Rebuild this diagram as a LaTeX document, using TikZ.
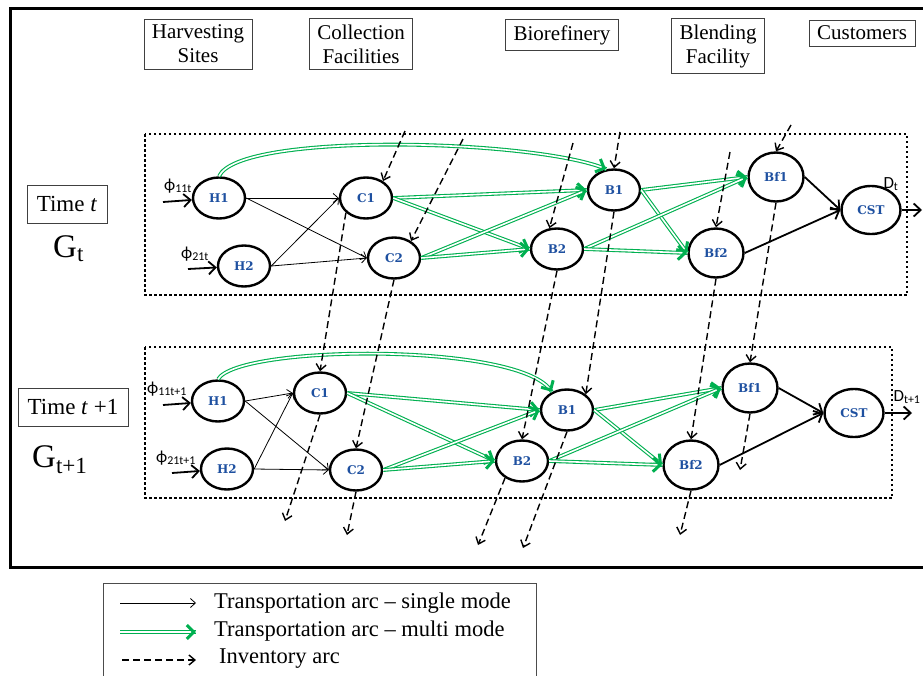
\documentclass[tikz,border=0pt]{standalone}
\usepackage{fontspec}
\setmainfont{Liberation Serif}
\newfontfamily\lblfont{DejaVu Serif}
\newfontfamily\calfont{Carlito}
\usetikzlibrary{shapes.geometric,arrows.meta,decorations.markings}
\definecolor{mgreen}{RGB}{0,176,80}
\definecolor{lblue}{RGB}{30,80,160}

\begin{document}
\begin{tikzpicture}[x=1pt,y=-1pt,
  site/.style={draw, ellipse, line width=2.4pt, minimum width=52pt, minimum height=41pt, inner sep=0pt,
    text=lblue, font=\lblfont\bfseries\fontsize{12}{14}\selectfont},
  blend/.style={site, minimum width=55pt, minimum height=49pt},
  cust/.style={site, minimum width=59pt, minimum height=48pt},
  hdr/.style={draw=black!75, line width=0.8pt, align=center, inner xsep=8pt, inner ysep=6pt,
    font=\fontsize{21}{24}\selectfont},
  sub/.style={inner sep=0pt, font=\calfont\fontsize{17}{19}\selectfont},
  single/.style={line width=0.8pt, -{Straight Barb[length=5pt,width=9pt]}},
  heavy/.style={line width=1.8pt, -{Straight Barb[length=7pt,width=13pt]}},
  multi/.style={draw=mgreen, double=white, double distance=1.6pt, line width=1.1pt,
    postaction={decorate, decoration={markings, mark=at position 0.999 with
      {\arrow[mgreen]{Straight Barb[length=7pt,width=14pt,line width=3pt]}}}}},
  inv/.style={line width=1.4pt, dash pattern=on 7pt off 4pt, -{Straight Barb[length=6pt,width=10pt]}},
  layer/.style={line width=2.5pt, dash pattern=on 2.5pt off 2.5pt}]
\useasboundingbox (0,0) rectangle (923,675);

\draw[line width=3pt] (924,8) -- (10,8) -- (10,567) -- (924,567);
\draw[layer] (145,134) rectangle (907,295);
\draw[layer] (145,347) rectangle (892,498);

\node[hdr] (hs) at (198,44) {Harvesting\\Sites};
\node[hdr] (cf) at (361,44) {Collection\\Facilities};
\node[hdr] (br) at (562,35) {Biorefinery};
\node[hdr] (bf) at (718,46) {Blending\\Facility};
\node[hdr] (cu) at (862,33) {Customers};

\node[draw=black!75, line width=0.8pt, minimum width=80pt, minimum height=38pt, inner sep=0pt,
  font=\fontsize{23}{26}\selectfont] (tt) at (67,204) {Time \textit{t}};
\node[anchor=base west, inner sep=0pt, font=\fontsize{33}{36}\selectfont] (gt) at (53,257) {G\textsubscript{t}};
\node[draw=black!75, line width=0.8pt, minimum width=110pt, minimum height=38pt, inner sep=0pt,
  font=\fontsize{23}{26}\selectfont] (ttp) at (73,407) {Time \textit{t} +1};
\node[anchor=base west, inner sep=0pt, font=\fontsize{33}{36}\selectfont] (gtp) at (32,467) {G\textsubscript{t+1}};

\node[site] (h1) at (219,198) {H1};
\node[site] (h2) at (244,266) {H2};
\node[site] (c1) at (366,198) {C1};
\node[site] (c2) at (394,258) {C2};
\node[site] (b1) at (614,190) {B1};
\node[site] (b2) at (557,249) {B2};
\node[blend] (f1) at (776,177) {Bf1};
\node[blend] (f2) at (716,253) {Bf2};
\node[cust] (cst) at (871,210) {CST};

\node[site] (h1p) at (218,401) {H1};
\node[site] (h2p) at (227,469) {H2};
\node[site] (c1p) at (320,393) {C1};
\node[site] (c2p) at (356,470) {C2};
\node[site] (b1p) at (567,410) {B1};
\node[site] (b2p) at (522,461) {B2};
\node[blend] (f1p) at (750,388) {Bf1};
\node[blend] (f2p) at (691,465) {Bf2};
\node[cust] (cstp) at (854,413) {CST};

\node[sub] (p11) at (178,186) {ϕ\textsubscript{11t}};
\node[sub] (p21) at (195,254) {ϕ\textsubscript{21t}};
\node[sub] (p11p) at (167,389) {ϕ\textsubscript{11t+1}};
\node[sub] (p21p) at (176,458) {ϕ\textsubscript{21t+1}};
\node[sub] (dt) at (891,184) {D\textsubscript{t}};
\node[sub] (dtp) at (907,397) {D\textsubscript{t+1}};

\coordinate (i1) at (163,202);
\coordinate (i2) at (188,269);
\coordinate (i1p) at (163,405);
\coordinate (i2p) at (172,473);
\coordinate (o1) at (922,210);
\coordinate (o1p) at (912,413);
\draw[heavy] (i1) -- (h1);
\draw[heavy] (i2) -- (h2);
\draw[heavy] (i1p) -- (h1p);
\draw[heavy] (i2p) -- (h2p);
\draw[heavy] (cst.east) -- (o1);
\draw[heavy] (cstp.east) -- (o1p);

\draw[single] (h1.east) -- (c1.west);
\draw[single] (h1.east) -- (c2.west);
\draw[single] (h2.east) -- (c1.west);
\draw[single] (h2.east) -- (c2.west);
\draw[multi] (h1.north) .. controls +(20,-45) and +(-70,-30) .. (b1.110);
\draw[multi] (c1.east) -- (b1.west);
\draw[multi] (c1.east) -- (b2.west);
\draw[multi] (c2.east) -- (b1.west);
\draw[multi] (c2.east) -- (b2.west);
\draw[multi] (b1.east) -- (f1.west);
\draw[multi] (b1.east) -- (f2.west);
\draw[multi] (b2.east) -- (f1.west);
\draw[multi] (b2.east) -- (f2.west);
\draw[heavy] (f1.east) -- (cst.west);
\draw[heavy] (f2.east) -- (cst.west);

\draw[single] (h1p.east) -- (c1p.west);
\draw[single] (h1p.east) -- (c2p.west);
\draw[single] (h2p.east) -- (c1p.west);
\draw[single] (h2p.east) -- (c2p.west);
\draw[multi] (h1p.north) .. controls +(20,-35) and +(-28,-50) .. (b1p.130);
\draw[multi] (c1p.east) -- (b1p.west);
\draw[multi] (c1p.east) -- (b2p.west);
\draw[multi] (c2p.east) -- (b1p.west);
\draw[multi] (c2p.east) -- (b2p.west);
\draw[multi] (b1p.east) -- (f1p.west);
\draw[multi] (b1p.east) -- (f2p.west);
\draw[multi] (b2p.east) -- (f1p.west);
\draw[multi] (b2p.east) -- (f2p.west);
\draw[heavy] (f1p.east) -- (cstp.west);
\draw[heavy] (f2p.east) -- (cstp.west);

\coordinate (ic1) at (405,131);
\coordinate (ic2) at (463,139);
\coordinate (ib1) at (620,132);
\coordinate (ib2) at (573,143);
\coordinate (if1) at (791,125);
\coordinate (if2) at (730,152);
\draw[inv] (ic1) -- (c1.45);
\draw[inv] (ic2) -- (c2.45);
\draw[inv] (ib1) -- (b1.north);
\draw[inv] (ib2) -- (b2.110);
\draw[inv] (if1) -- (f1.north);
\draw[inv] (if2) -- (f2.north);

\draw[inv] (c1.216) -- (c1p.north);
\draw[inv] (c2.south) -- (c2p.north);
\draw[inv] (b1.south) -- (b1p.40);
\draw[inv] (b2.south) -- (b2p.north);
\draw[inv] (f1.south) -- (f1p.north);
\draw[inv] (f2.south) -- (f2p.north);

\coordinate (oc1) at (285,521);
\coordinate (oc2) at (347,535);
\coordinate (ob1) at (523,548);
\coordinate (ob2) at (478,545);
\coordinate (of1) at (740,470);
\coordinate (of2) at (680,535);
\draw[inv] (c1p.south) -- (oc1);
\draw[inv] (c2p.south) -- (oc2);
\draw[inv] (b1p.south) -- (ob1);
\draw[inv] (b2p.225) -- (ob2);
\draw[inv] (f1p.south) -- (of1);
\draw[inv] (f2p.south) -- (of2);

\draw[draw=black!70, line width=0.9pt] (103,676) -- (103,583) -- (536,583) -- (536,676);
\coordinate (l1a) at (120,603);
\coordinate (l1b) at (196,603);
\coordinate (l2a) at (120,632);
\coordinate (l2b) at (196,632);
\coordinate (l3a) at (122,660);
\coordinate (l3b) at (196,660);
\draw[single] (l1a) -- (l1b);
\draw[multi] (l2a) -- (l2b);
\draw[inv] (l3a) -- (l3b);
\node[anchor=west, inner sep=0pt, font=\fontsize{22.5}{26}\selectfont] (t1) at (214,603) {Transportation arc -- single mode};
\node[anchor=west, inner sep=0pt, font=\fontsize{22.5}{26}\selectfont] (t2) at (214,631) {Transportation arc -- multi mode};
\node[anchor=west, inner sep=0pt, font=\fontsize{22.5}{26}\selectfont] (t3) at (219,659) {Inventory arc};
\end{tikzpicture}
\end{document}
